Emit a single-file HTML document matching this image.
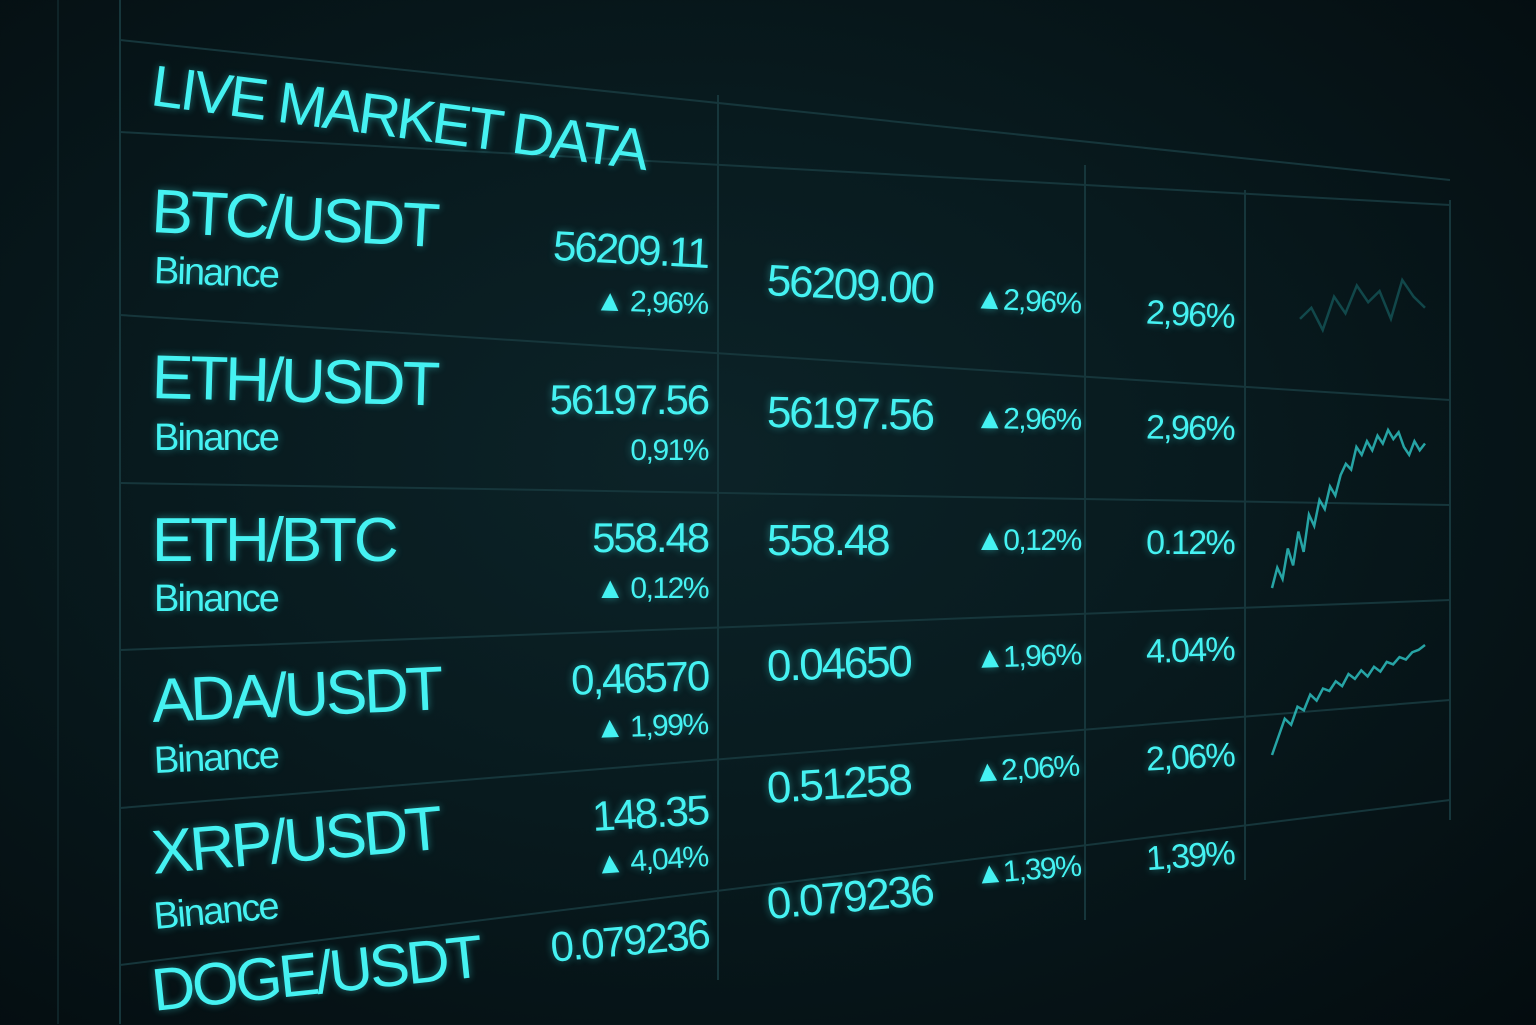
<!DOCTYPE html>
<html><head><meta charset="utf-8"><style>
html,body{margin:0;padding:0}
body{width:1536px;height:1024px;overflow:hidden;position:relative;
background:radial-gradient(ellipse at 45% 45%,#0c2328 0%,#081a1e 45%,#040c0f 100%);
font-family:"Liberation Sans",sans-serif;color:#45f2f2}
.t{position:absolute;white-space:nowrap;transform-origin:left center;text-shadow:0 0 8px rgba(60,240,240,.45);letter-spacing:-0.05em}
.r{transform-origin:right center;text-align:right}
svg{position:absolute;left:0;top:0}
</style></head><body>
<svg width="1536" height="1024">
<g stroke="#16363b" stroke-width="2" fill="none">
<line x1="120" y1="0" x2="120" y2="1024"/>
<line x1="718" y1="95" x2="718" y2="980"/>
<line x1="1085" y1="165" x2="1085" y2="920"/>
<line x1="1245" y1="190" x2="1245" y2="880"/>
<line x1="1450" y1="200" x2="1450" y2="820"/>
<line x1="120" y1="40" x2="1450" y2="180"/>
<line x1="120" y1="132" x2="1450" y2="205"/>
<line x1="120" y1="315" x2="1450" y2="400"/>
<line x1="120" y1="483" x2="1450" y2="505"/>
<line x1="120" y1="650" x2="1450" y2="600"/>
<line x1="120" y1="808" x2="1450" y2="700"/>
<line x1="120" y1="965" x2="1450" y2="800"/>
</g>
<line x1="58" y1="0" x2="58" y2="1024" stroke="#0f2428" stroke-width="2"/>
<g id="spark" fill="none" stroke="#2ec8c8" stroke-width="2.5" opacity=".8"></g>
</svg>

<div class="t" style="left:152px;top:52px;font-size:58px;transform:rotate(7.5deg)">LIVE MARKET DATA</div>

<div class="t" style="left:152px;top:176px;font-size:62px;transform:rotate(3deg)">BTC/USDT</div>
<div class="t" style="left:154px;top:250px;font-size:38px;transform:rotate(2deg)">Binance</div>
<div class="t" style="left:152px;top:342px;font-size:62px;transform:rotate(1.5deg)">ETH/USDT</div>
<div class="t" style="left:154px;top:417px;font-size:38px">Binance</div>
<div class="t" style="left:152px;top:505px;font-size:62px">ETH/BTC</div>
<div class="t" style="left:154px;top:578px;font-size:38px">Binance</div>
<div class="t" style="left:152px;top:666px;font-size:62px;transform:rotate(-2.5deg)">ADA/USDT</div>
<div class="t" style="left:154px;top:740px;font-size:38px;transform:rotate(-2.5deg)">Binance</div>
<div class="t" style="left:152px;top:818px;font-size:62px;transform:rotate(-5deg)">XRP/USDT</div>
<div class="t" style="left:154px;top:896px;font-size:38px;transform:rotate(-5deg)">Binance</div>
<div class="t" style="left:152px;top:956px;font-size:60px;transform:rotate(-6deg)">DOGE/USDT</div>

<div class="t r" style="right:828px;top:230px;font-size:42px;transform:rotate(3deg)">56209.11</div>
<div class="t r" style="right:828px;top:288px;font-size:30px;transform:rotate(2deg)">▲ 2,96%</div>
<div class="t r" style="right:828px;top:376px;font-size:42px">56197.56</div>
<div class="t r" style="right:828px;top:434px;font-size:30px">0,91%</div>
<div class="t r" style="right:828px;top:514px;font-size:42px">558.48</div>
<div class="t r" style="right:828px;top:572px;font-size:30px">▲ 0,12%</div>
<div class="t r" style="right:828px;top:652px;font-size:42px;transform:rotate(-2deg)">0,46570</div>
<div class="t r" style="right:828px;top:708px;font-size:30px;transform:rotate(-2deg)">▲ 1,99%</div>
<div class="t r" style="right:828px;top:786px;font-size:42px;transform:rotate(-3.5deg)">148.35</div>
<div class="t r" style="right:828px;top:840px;font-size:30px;transform:rotate(-4deg)">▲ 4,04%</div>
<div class="t r" style="right:828px;top:910px;font-size:42px;transform:rotate(-5deg)">0.079236</div>

<div class="t" style="left:767px;top:256px;font-size:44px;transform:rotate(3deg)">56209.00</div>
<div class="t" style="left:767px;top:388px;font-size:44px;transform:rotate(1deg)">56197.56</div>
<div class="t" style="left:767px;top:516px;font-size:44px">558.48</div>
<div class="t" style="left:767px;top:642px;font-size:44px;transform:rotate(-2deg)">0.04650</div>
<div class="t" style="left:767px;top:764px;font-size:44px;transform:rotate(-3.5deg)">0.51258</div>
<div class="t" style="left:767px;top:880px;font-size:44px;transform:rotate(-5deg)">0.079236</div>

<div class="t" style="left:975px;top:282px;font-size:30px;transform:rotate(3deg)">▲2,96%</div>
<div class="t" style="left:975px;top:402px;font-size:30px;transform:rotate(1deg)">▲2,96%</div>
<div class="t" style="left:975px;top:524px;font-size:30px">▲0,12%</div>
<div class="t" style="left:975px;top:642px;font-size:30px;transform:rotate(-2deg)">▲1,96%</div>
<div class="t" style="left:973px;top:756px;font-size:30px;transform:rotate(-3.5deg)">▲2,06%</div>
<div class="t" style="left:975px;top:858px;font-size:30px;transform:rotate(-4.5deg)">▲1,39%</div>

<div class="t r" style="right:302px;top:298px;font-size:34px;transform:rotate(3deg)">2,96%</div>
<div class="t r" style="right:302px;top:410px;font-size:34px;transform:rotate(1deg)">2,96%</div>
<div class="t r" style="right:302px;top:524px;font-size:34px">0.12%</div>
<div class="t r" style="right:302px;top:630px;font-size:34px;transform:rotate(-2deg)">4.04%</div>
<div class="t r" style="right:302px;top:736px;font-size:34px;transform:rotate(-3deg)">2,06%</div>
<div class="t r" style="right:302px;top:834px;font-size:34px;transform:rotate(-4deg)">1,39%</div>

<script>
const spark1Values=[10,28,18,45,30,60,42,75,65,88,80,100,92,110,120,115,135,128,140,132,145,138,150,142,148,135,128,140,132,138];
const spark2Values=[5,20,35,30,45,42,55,50,60,58,66,62,72,68,75,70,78,74,82,80,86,84,90,92,96];
const spark3Values=[60,62,58,64,61,66,63,65,60,67,64,62];
function draw(vals,x0,x1,yBase,yTop,name,op){
  const mx=Math.max(...vals),mn=Math.min(...vals);
  const xs=i=>x0+(x1-x0)*i/(vals.length-1);
  const ys=v=>yBase-(v-mn)/(mx-mn||1)*(yBase-yTop);
  const p=document.createElementNS('http://www.w3.org/2000/svg','polyline');
  p.setAttribute('points',vals.map((v,i)=>xs(i)+','+ys(v)).join(' '));
  p.setAttribute('opacity',op);
  
  
  document.getElementById('spark').appendChild(p);
}
draw(spark1Values,1272,1425,588,430,'sparkline-eth',1);
draw(spark2Values,1272,1425,755,645,'sparkline-ada',1);
draw(spark3Values,1300,1425,330,280,'sparkline-btc',0.35);
</script>
</body></html>
